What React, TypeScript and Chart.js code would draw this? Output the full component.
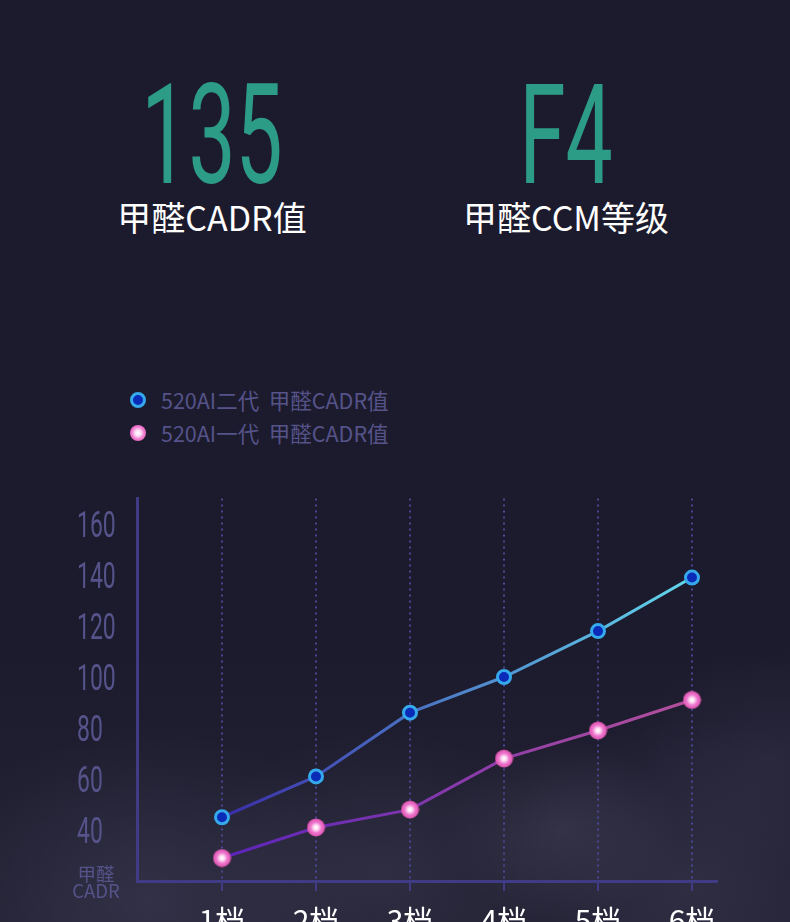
import React, { useEffect, useRef } from 'react';
import { Chart, registerables } from 'chart.js';

Chart.register(...registerables);

// ---------- data ----------
const categories = ['1档', '2档', '3档', '4档', '5档', '6档'];
const gen2Values = [45, 61, 86, 100, 118, 139];
const gen1Values = [29, 41, 48, 68, 79, 91];
const seriesNames = ['520AI二代  甲醛CADR值', '520AI一代  甲醛CADR值'];
const yTickValues = [20, 40, 60, 80, 100, 120, 140, 160];
const yTickLabels: (string | string[])[] = [['甲醛', 'CADR'], '40', '60', '80', '100', '120', '140', '160'];
const headlineValues = ['135', 'F4'];
const headlineCaptions = ['甲醛CADR值', '甲醛CCM等级'];

// ---------- styles ----------
const BG = '#1c1b2d';
const AXIS = '#3f3b84';
const GRID = '#4a4694';
const TICK_TEXT = '#55538a';
const TEAL = '#2c9c87';
const CJK = '"Noto Sans CJK SC", "Noto Sans", sans-serif';

function makeGlowDot(size: number): HTMLCanvasElement {
  const c = document.createElement('canvas');
  c.width = size;
  c.height = size;
  const ctx = c.getContext('2d')!;
  const r = size / 2;
  const g = ctx.createRadialGradient(r, r, 0, r, r, r);
  g.addColorStop(0, '#ffffff');
  g.addColorStop(0.25, '#fde0f4');
  g.addColorStop(0.55, '#f07ad0');
  g.addColorStop(1, '#d64aa6');
  ctx.fillStyle = g;
  ctx.beginPath();
  ctx.arc(r, r, r - 0.5, 0, Math.PI * 2);
  ctx.fill();
  return c;
}

const yLabelPlugin = {
  id: 'yLabels',
  afterDraw(chart: any) {
    const ctx = chart.ctx;
    const ys = chart.scales.y;
    const left = chart.chartArea.left;
    yTickValues.forEach((v, i) => {
      const y = ys.getPixelForValue(v);
      const lab = yTickLabels[i];
      ctx.save();
      ctx.fillStyle = TICK_TEXT;
      if (Array.isArray(lab)) {
        ctx.font = '18.5px ' + CJK;
        ctx.textAlign = 'center';
        ctx.textBaseline = 'middle';
        ctx.fillText(lab[0], left - 41, y - 7);
        ctx.fillText(lab[1], left - 41, y + 10);
      } else {
        ctx.translate(left - 60, y + 4);
        ctx.scale(0.62, 1);
        ctx.font = '400 37px Roboto';
        ctx.textAlign = 'left';
        ctx.textBaseline = 'middle';
        ctx.fillText(lab, 0, 0);
      }
      ctx.restore();
    });
  },
};

function lineGradient(chart: any, from: string, to: string, fallback: string) {
  const xs = chart.scales && chart.scales.x;
  if (!chart.chartArea || !xs) return fallback;
  const x0 = xs.getPixelForValue(1);
  const x1 = xs.getPixelForValue(categories.length);
  const g = chart.ctx.createLinearGradient(x0, 0, x1, 0);
  g.addColorStop(0, from);
  g.addColorStop(1, to);
  return g;
}

function ChartCanvas() {
  const ref = useRef<HTMLCanvasElement>(null);
  useEffect(() => {
    const glow = makeGlowDot(19);
    const chart = new Chart(ref.current!, {
      type: 'line',
      data: {
        datasets: [
          {
            label: seriesNames[0],
            data: gen2Values.map((v, i) => ({ x: i + 1, y: v })),
            borderColor: (c: any) => lineGradient(c.chart, '#3a2ca6', '#62d8ec', '#4a8ad0'),
            borderWidth: 3,
            pointRadius: 6.5,
            pointBorderWidth: 3,
            pointBackgroundColor: '#0a2ab8',
            pointBorderColor: '#35a9ec',
            tension: 0,
            order: 0,
          },
          {
            label: seriesNames[1],
            data: gen1Values.map((v, i) => ({ x: i + 1, y: v })),
            borderColor: (c: any) => lineGradient(c.chart, '#5a24b8', '#b4509c', '#8a3aa8'),
            borderWidth: 3,
            pointStyle: glow as any,
            pointRadius: 9,
            tension: 0,
            order: 1,
          },
        ],
      },
      options: {
        animation: false,
        responsive: false,
        layout: { padding: { left: 0, right: 73, top: 18.5, bottom: 0 } },
        plugins: { legend: { display: false }, tooltip: { enabled: false } },
        scales: {
          x: {
            type: 'linear',
            min: 1 - 85 / 94,
            max: 6 + 25 / 94,
            afterFit: (s: any) => {
              s.height = 41;
            },
            ticks: {
              stepSize: 1,
              includeBounds: false,
              color: '#ffffff',
              padding: 12,
              font: { family: CJK, size: 30 },
              maxRotation: 0,
              autoSkip: false,
              callback: (v: any) => categories[Number(v) - 1] ?? '',
            },
            grid: {
              color: GRID,
              lineWidth: 2,
              drawOnChartArea: true,
              drawTicks: true,
              tickLength: 10,
              tickColor: AXIS,
              tickWidth: 2,
              tickBorderDash: [],
            },
            border: { display: true, color: AXIS, width: 3, dash: [2, 4] },
          },
          y: {
            type: 'linear',
            min: 20,
            max: 170,
            afterFit: (s: any) => {
              s.width = 137;
            },
            ticks: { display: false, stepSize: 20 },
            grid: { display: true, drawOnChartArea: false, drawTicks: false, color: 'rgba(0,0,0,0)' },
            border: { display: true, color: AXIS, width: 3 },
          },
        },
      },
      plugins: [yLabelPlugin],
    } as any);
    return () => chart.destroy();
  }, []);
  return (
    <canvas
      ref={ref}
      width={790}
      height={442}
      style={{ position: 'absolute', left: 0, top: 480, width: 790, height: 442 }}
    />
  );
}

function LegendMarker({ kind }: { kind: number }) {
  const base: React.CSSProperties = {
    position: 'absolute',
    left: -31,
    top: '50%',
    width: 16,
    height: 16,
    marginTop: -8,
    borderRadius: '50%',
    boxSizing: 'border-box',
  };
  if (kind === 0) {
    return <span style={{ ...base, background: '#0a2ab8', border: '3px solid #35a9ec' }} />;
  }
  return (
    <span
      style={{
        ...base,
        background: 'radial-gradient(circle, #ffffff 0%, #fde0f4 25%, #f07ad0 55%, #d64aa6 100%)',
      }}
    />
  );
}

export default function App() {
  useEffect(() => {
    document.body.style.margin = '0';
    document.body.style.background = BG;
    document.documentElement.style.background = BG;
  }, []);

  const centers = [212, 566];

  return (
    <div
      style={{
        position: 'relative',
        width: 790,
        height: 922,
        overflow: 'hidden',
        background: [
          'radial-gradient(ellipse 220px 170px at 150px 900px, rgba(70,68,94,0.45), rgba(70,68,94,0) 100%)',
          'radial-gradient(ellipse 180px 140px at 380px 870px, rgba(66,64,88,0.4), rgba(66,64,88,0) 100%)',
          'radial-gradient(ellipse 120px 90px at 560px 830px, rgba(80,78,100,0.35), rgba(80,78,100,0) 100%)',
          'radial-gradient(ellipse 200px 160px at 690px 880px, rgba(66,64,90,0.4), rgba(66,64,90,0) 100%)',
          'radial-gradient(ellipse 140px 110px at 770px 760px, rgba(58,56,80,0.35), rgba(58,56,80,0) 100%)',
          'linear-gradient(to bottom, rgba(40,38,56,0) 640px, rgba(40,38,56,0.6) 922px)',
          BG,
        ].join(','),
        fontFamily: CJK,
      }}
    >
      {headlineValues.map((v, i) => (
        <React.Fragment key={v}>
          <div
            style={{
              position: 'absolute',
              left: centers[i] - 200,
              top: 65,
              width: 400,
              textAlign: 'center',
              fontFamily: 'Roboto',
              fontWeight: 400,
              fontSize: 140,
              lineHeight: '140px',
              color: TEAL,
              transform: 'scaleX(0.6)',
              transformOrigin: 'center',
            }}
          >
            {v}
          </div>
          <div
            style={{
              position: 'absolute',
              left: centers[i] - 200,
              top: 199,
              width: 400,
              textAlign: 'center',
              fontSize: 34,
              lineHeight: '36px',
              color: '#ffffff',
            }}
          >
            {headlineCaptions[i]}
          </div>
        </React.Fragment>
      ))}

      {seriesNames.map((name, i) => (
        <div
          key={name}
          style={{
            position: 'absolute',
            left: 161,
            top: 386 + i * 33,
            height: 28,
            lineHeight: '28px',
            fontSize: 21.5,
            color: '#55538a',
            whiteSpace: 'pre',
          }}
        >
          <LegendMarker kind={i} />
          {name}
        </div>
      ))}

      <ChartCanvas />
    </div>
  );
}
